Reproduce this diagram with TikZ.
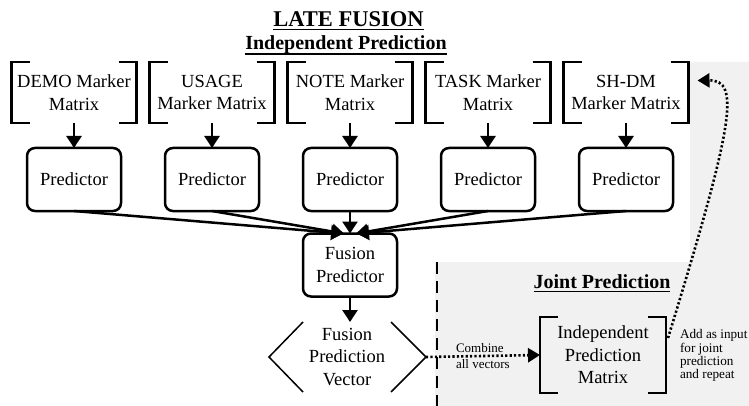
\documentclass[tikz,border=0pt]{standalone}
\usepackage{fontspec}
\setmainfont{Liberation Serif}
\usetikzlibrary{arrows.meta}
\definecolor{bgshade}{RGB}{241,241,241}
\begin{document}
\begin{tikzpicture}[x=1pt,y=-1pt,
  every node/.style={inner sep=0pt, outer sep=0pt},
  main/.style={font=\fontsize{18.5}{22.5}\selectfont, align=center},
  pred/.style={main, draw, line width=2.5pt, rounded corners=8pt, minimum width=94pt, minimum height=63pt},
  brk/.style={main, minimum width=125pt, minimum height=61pt},
  brline/.style={line width=2.5pt},
  arr/.style={line width=2.5pt, -{Triangle[length=12pt,width=15pt]}},
  dotarr/.style={line width=2.6pt, dash pattern=on 2.2pt off 2.2pt, -{Triangle[length=12pt,width=14pt]}},
  ttl/.style={font=\fontsize{22.5}{26}\selectfont\bfseries, anchor=base},
  sub/.style={font=\fontsize{20}{24}\selectfont\bfseries, anchor=base},
  uline/.style={line width=1.6pt},
  small/.style={font=\fontsize{13}{15.5}\selectfont, align=left},
]
\useasboundingbox (0,0) rectangle (749,406);
% shaded region
\fill[bgshade] (690,62) -- (749,62) -- (749,406) -- (435,406) -- (435,262) -- (690,262) -- cycle;
\draw[line width=2.6pt, dash pattern=on 12pt off 7pt] (437,262) -- (437,406);

% titles
\node[ttl] (t1) at (348.5,27) {LATE FUSION};
\draw[uline] ([yshift=-2.5pt]t1.base west) -- ([yshift=-2.5pt]t1.base east);
\node[sub] (t2) at (346,50) {Independent Prediction};
\draw[uline] ([yshift=-4pt]t2.base west) -- ([yshift=-4pt]t2.base east);

% marker matrices
\node[brk] (b1) at (74,92.5) {DEMO Marker\\Matrix};
\node[brk] (b2) at (212,92.5) {USAGE\\Marker Matrix};
\node[brk] (b3) at (350,92.5) {NOTE Marker\\Matrix};
\node[brk] (b4) at (488,92.5) {TASK Marker\\Matrix};
\node[brk] (b5) at (626,92.5) {SH-DM\\Marker Matrix};
\node[brk, minimum width=126pt, minimum height=76pt] (m) at (603,355) {Independent\\Prediction\\Matrix};
\foreach \n in {b1,b2,b3,b4,b5,m}{
  \draw[brline] ([xshift=18pt]\n.north west) -- (\n.north west) -- (\n.south west) -- ([xshift=18pt]\n.south west);
  \draw[brline] ([xshift=-18pt]\n.north east) -- (\n.north east) -- (\n.south east) -- ([xshift=-18pt]\n.south east);
}

% predictors
\foreach \i/\x in {1/74,2/212,3/350,4/488,5/626}{
  \node[pred] (p\i) at (\x,179.5) {Predictor};
  \draw[arr] (b\i.south) -- (p\i.north);
}

% fusion predictor
\node[pred] (fp) at (350,265) {Fusion\\Predictor};
\draw[arr] (p1.south) -- ([xshift=-7pt]fp.north);
\draw[arr] (p2.south) -- ([xshift=-6pt]fp.north);
\draw[arr] (p3.south) -- (fp.north);
\draw[arr] (p4.south) -- ([xshift=6pt]fp.north);
\draw[arr] (p5.south) -- ([xshift=7pt]fp.north);

% fusion prediction vector
\node[main, minimum width=88pt, minimum height=70pt] (fv) at (347,357) {Fusion\\Prediction\\Vector};
\coordinate (fvl) at ([xshift=-34pt]fv.west);
\coordinate (fvr) at ([xshift=35pt]fv.east);
\draw[line width=1.5pt] (fv.north west) -- (fvl) -- (fv.south west);
\draw[line width=1.5pt] (fv.north east) -- (fvr) -- (fv.south east);
\draw[arr] (fp.south) -- (fp.south |- fv.north);

% joint prediction
\node[sub] (jp) at (602,288) {Joint Prediction};
\draw[uline] ([yshift=-3.5pt]jp.base west) -- ([yshift=-3.5pt]jp.base east);

\draw[dotarr] (fvr) -- (m.west);
\node[small, anchor=west] (cl) at (456,356) {Combine\\all vectors};

\node[font=\fontsize{13.2}{13.2}\selectfont, align=left, anchor=west] (al) at (680,355.5) {Add as input\\for joint\\prediction\\and repeat};

\coordinate (ms) at ([shift={(2pt,17pt)}]m.east);
\coordinate (bt) at ([shift={(9pt,12pt)}]b5.east);
\draw[dotarr] (ms) .. controls (735,120) and (740,80) .. (bt);
\end{tikzpicture}
\end{document}
